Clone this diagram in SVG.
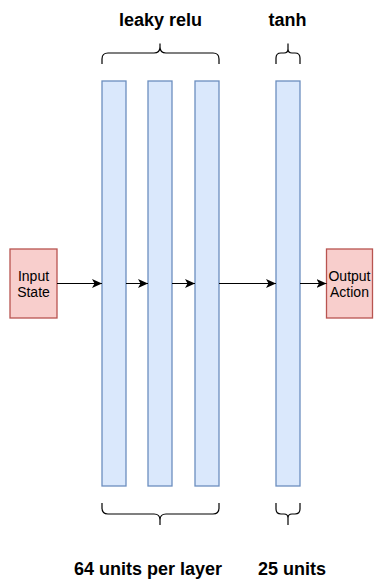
<svg xmlns="http://www.w3.org/2000/svg" width="374" height="580" viewBox="0 0 374 580">
  <style>
    .layer { fill: #dae8fc; stroke: #6c8ebf; stroke-width: 1.3; }
    .io { fill: #f8cecc; stroke: #b85450; stroke-width: 1.3; }
    .io-text { font-family: "Liberation Sans", Arial, sans-serif; font-size: 14px; fill: #000; text-anchor: middle; }
    .label { font-family: "Liberation Sans", Arial, sans-serif; font-size: 18px; font-weight: bold; fill: #000; text-anchor: middle; }
    .brace { fill: none; stroke: #000; stroke-width: 1.2; }
    .edge { fill: none; stroke: #000; stroke-width: 1; }
  </style>
  <defs>
    <marker id="arrow" markerUnits="userSpaceOnUse" markerWidth="11" markerHeight="9" refX="10" refY="4.5" orient="auto">
      <path d="M0,0 L10,4.5 L0,9 L2.5,4.5 Z" fill="#000"/>
    </marker>
  </defs>

  <rect width="374" height="580" fill="#fff"/>

  <!-- input / output -->
  <g id="input-state">
    <rect class="io" x="10" y="249" width="47" height="69"/>
    <text class="io-text" x="33.5" y="280.5">Input</text>
    <text class="io-text" x="33.5" y="296.5">State</text>
  </g>
  <g id="output-action">
    <rect class="io" x="326.5" y="249" width="46" height="69"/>
    <text class="io-text" x="349.5" y="280.5">Output</text>
    <text class="io-text" x="349.5" y="296.5">Action</text>
  </g>

  <!-- hidden layers -->
  <g id="hidden-1"><rect class="layer" x="102" y="81" width="24" height="405"/></g>
  <g id="hidden-2"><rect class="layer" x="148" y="81" width="24" height="405"/></g>
  <g id="hidden-3"><rect class="layer" x="195" y="81" width="24" height="405"/></g>
  <g id="tanh-layer"><rect class="layer" x="276" y="81" width="24" height="405"/></g>

  <!-- connectors -->
  <g id="connectors">
    <line class="edge" x1="57" y1="283.5" x2="102" y2="283.5" marker-end="url(#arrow)"/>
    <line class="edge" x1="126" y1="283.5" x2="148" y2="283.5" marker-end="url(#arrow)"/>
    <line class="edge" x1="172" y1="283.5" x2="195" y2="283.5" marker-end="url(#arrow)"/>
    <line class="edge" x1="219" y1="283.5" x2="276" y2="283.5" marker-end="url(#arrow)"/>
    <line class="edge" x1="300" y1="283.5" x2="326.5" y2="283.5" marker-end="url(#arrow)"/>
  </g>

  <!-- braces -->
  <g id="brace-relu-top">
    <path class="brace" d="M102,64 V59 Q102,53 108,53 H154 Q160,53 160,47 V43.5 M160,47 Q160,53 166,53 H213 Q219,53 219,59 V64"/>
  </g>
  <g id="brace-tanh-top">
    <path class="brace" d="M276,64 V58 Q276,53 281,53 H284 Q288,53 288,49 V43.5 M288,49 Q288,53 292,53 H295 Q300,53 300,58 V64"/>
  </g>
  <g id="brace-relu-bottom">
    <path class="brace" d="M102,503 V508 Q102,514 108,514 H154 Q160,514 160,520 V525 M160,520 Q160,514 166,514 H213 Q219,514 219,508 V503"/>
  </g>
  <g id="brace-tanh-bottom">
    <path class="brace" d="M276,503 V509 Q276,514 281,514 H284 Q288,514 288,518 V525 M288,518 Q288,514 292,514 H295 Q300,514 300,509 V503"/>
  </g>

  <!-- labels -->
  <g id="label-leaky-relu"><text class="label" x="160.5" y="25.5">leaky relu</text></g>
  <g id="label-tanh"><text class="label" x="287.5" y="25.5">tanh</text></g>
  <g id="label-64-units"><text class="label" x="148" y="575">64 units per layer</text></g>
  <g id="label-25-units"><text class="label" x="292" y="575">25 units</text></g>
</svg>
